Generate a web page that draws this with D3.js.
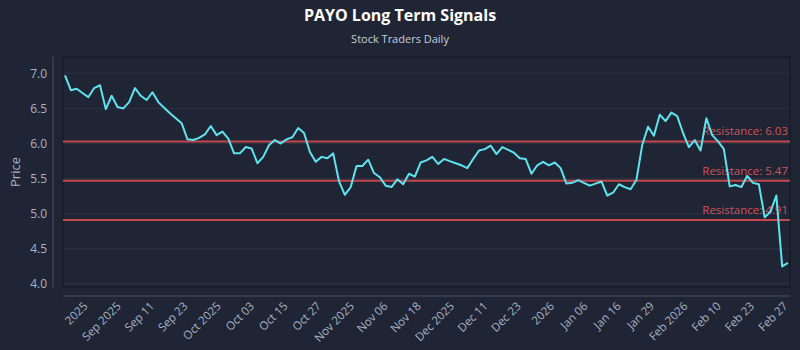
<!DOCTYPE html>
<html>
<head>
<meta charset="utf-8">
<script src="https://cdn.jsdelivr.net/npm/d3@7"></script>
<style>
  html, body { margin: 0; padding: 0; background: #1f2535; }
  svg { display: block; font-family: "Open Sans", "Noto Sans", sans-serif; }
</style>
</head>
<body>
<div id="chart"></div>
<script>
// data
const title = "PAYO Long Term Signals";
const subtitle = "Stock Traders Daily";

const xLabels = [
  "2025", "Sep 2025", "Sep 11", "Sep 23", "Oct 2025", "Oct 03", "Oct 15",
  "Oct 27", "Nov 2025", "Nov 06", "Nov 18", "Dec 2025", "Dec 11", "Dec 23",
  "2026", "Jan 06", "Jan 16", "Jan 29", "Feb 2026", "Feb 10", "Feb 23", "Feb 27"
];

const prices = [
  6.97, 6.76, 6.78, 6.72, 6.66, 6.79, 6.83, 6.49, 6.68, 6.52,
  6.50, 6.59, 6.79, 6.68, 6.62, 6.73, 6.59, 6.51, 6.43, 6.36,
  6.29, 6.06, 6.05, 6.08, 6.13, 6.25, 6.12, 6.17, 6.07, 5.86,
  5.86, 5.95, 5.93, 5.72, 5.81, 5.98, 6.05, 6.00, 6.06, 6.09,
  6.22, 6.15, 5.88, 5.74, 5.81, 5.79, 5.86, 5.46, 5.27, 5.38,
  5.68, 5.68, 5.77, 5.58, 5.52, 5.40, 5.38, 5.49, 5.42, 5.57,
  5.53, 5.73, 5.76, 5.81, 5.71, 5.78, 5.75, 5.72, 5.69, 5.65,
  5.78, 5.90, 5.92, 5.97, 5.85, 5.95, 5.91, 5.87, 5.79, 5.78,
  5.57, 5.69, 5.74, 5.69, 5.73, 5.65, 5.43, 5.44, 5.48, 5.44,
  5.40, 5.43, 5.46, 5.26, 5.30, 5.42, 5.38, 5.35, 5.48, 5.98,
  6.24, 6.11, 6.41, 6.32, 6.44, 6.39, 6.15, 5.95, 6.05, 5.90,
  6.36, 6.12, 6.03, 5.92, 5.39, 5.41, 5.38, 5.54, 5.44, 5.42,
  4.95, 5.03, 5.26, 4.25, 4.30
];

const resistance = [6.03, 5.47, 4.91];
const yTicks = [4.0, 4.5, 5.0, 5.5, 6.0, 6.5, 7.0];

// colors
const bgColor = "#1f2535";
const lineColor = "#5fe3ee";
const resColor = "#c4474c";
const textColor = "#aab2c3";

// svg
const width = 800;
const height = 350;
const plot = { left: 63, right: 790, top: 57, bottom: 287 };

const svg = d3.select("#chart").append("svg")
  .attr("width", width)
  .attr("height", height);

svg.append("rect")
  .attr("width", width)
  .attr("height", height)
  .attr("fill", bgColor);

// scales
const x = d3.scaleLinear()
  .domain([0, prices.length - 1])
  .range([plot.left + 2, plot.right - 2]);

const y = d3.scaleLinear()
  .domain([4, 7])
  .range([284, 73.3]);

const xTick = d3.scalePoint()
  .domain(xLabels)
  .range([82, 782]);

// titles
svg.append("text")
  .attr("x", width / 2)
  .attr("y", 21)
  .attr("text-anchor", "middle")
  .attr("fill", "#ffffff")
  .attr("font-size", 16)
  .attr("font-weight", "bold")
  .text(title);

svg.append("text")
  .attr("x", width / 2)
  .attr("y", 43)
  .attr("text-anchor", "middle")
  .attr("fill", "#c9cfdb")
  .attr("font-size", 11)
  .text(subtitle);

// grid
svg.append("g")
  .selectAll("line")
  .data(yTicks)
  .join("line")
  .attr("x1", plot.left)
  .attr("x2", plot.right)
  .attr("y1", d => y(d))
  .attr("y2", d => y(d))
  .attr("stroke", "#2b3344")
  .attr("stroke-width", 1);

// plot frame
svg.append("rect")
  .attr("x", plot.left)
  .attr("y", plot.top)
  .attr("width", plot.right - plot.left)
  .attr("height", plot.bottom - plot.top)
  .attr("fill", "none")
  .attr("stroke", "#121620")
  .attr("stroke-width", 1);

// y axis
const yAxis = svg.append("g")
  .attr("transform", `translate(53,0)`)
  .call(d3.axisLeft(y).tickValues(yTicks).tickFormat(d3.format(".1f")).tickSize(0).tickPadding(6));
yAxis.select(".domain").attr("stroke", "#4a5164").attr("d", `M0,${plot.top}V${plot.bottom}`);
yAxis.selectAll("text")
  .attr("fill", textColor)
  .attr("font-size", 12)
  .attr("font-family", "Open Sans, sans-serif");

svg.append("text")
  .attr("transform", `translate(20,${(plot.top + plot.bottom) / 2}) rotate(-90)`)
  .attr("text-anchor", "middle")
  .attr("fill", textColor)
  .attr("font-size", 13)
  .text("Price");

// x axis
const xAxis = svg.append("g")
  .attr("transform", `translate(0,296)`)
  .call(d3.axisBottom(xTick).tickSize(0).tickPadding(0));
xAxis.select(".domain").attr("stroke", "#4a5164").attr("d", `M${plot.left},0H${plot.right}`);
xAxis.selectAll("text")
  .attr("fill", textColor)
  .attr("font-size", 11.5)
  .attr("font-family", "Open Sans, sans-serif")
  .attr("text-anchor", "end")
  .attr("dy", "0.35em")
  .attr("transform", "translate(3,8) rotate(-45)");

// resistance lines
const res = svg.append("g");
res.selectAll("line")
  .data(resistance)
  .join("line")
  .attr("x1", plot.left)
  .attr("x2", plot.right)
  .attr("y1", d => y(d))
  .attr("y2", d => y(d))
  .attr("stroke", resColor)
  .attr("stroke-width", 2);

// price line
const line = d3.line()
  .x((d, i) => x(i))
  .y(d => y(d));

svg.append("path")
  .datum(prices)
  .attr("d", line)
  .attr("fill", "none")
  .attr("stroke", lineColor)
  .attr("stroke-width", 2)
  .attr("stroke-linejoin", "round");

res.selectAll("text")
  .data(resistance)
  .join("text")
  .attr("x", plot.right - 2)
  .attr("y", d => y(d) - 6)
  .attr("text-anchor", "end")
  .attr("fill", "#d25358")
  .attr("font-size", 11.5)
  .text(d => `Resistance: ${d.toFixed(2)}`);
</script>
</body>
</html>
